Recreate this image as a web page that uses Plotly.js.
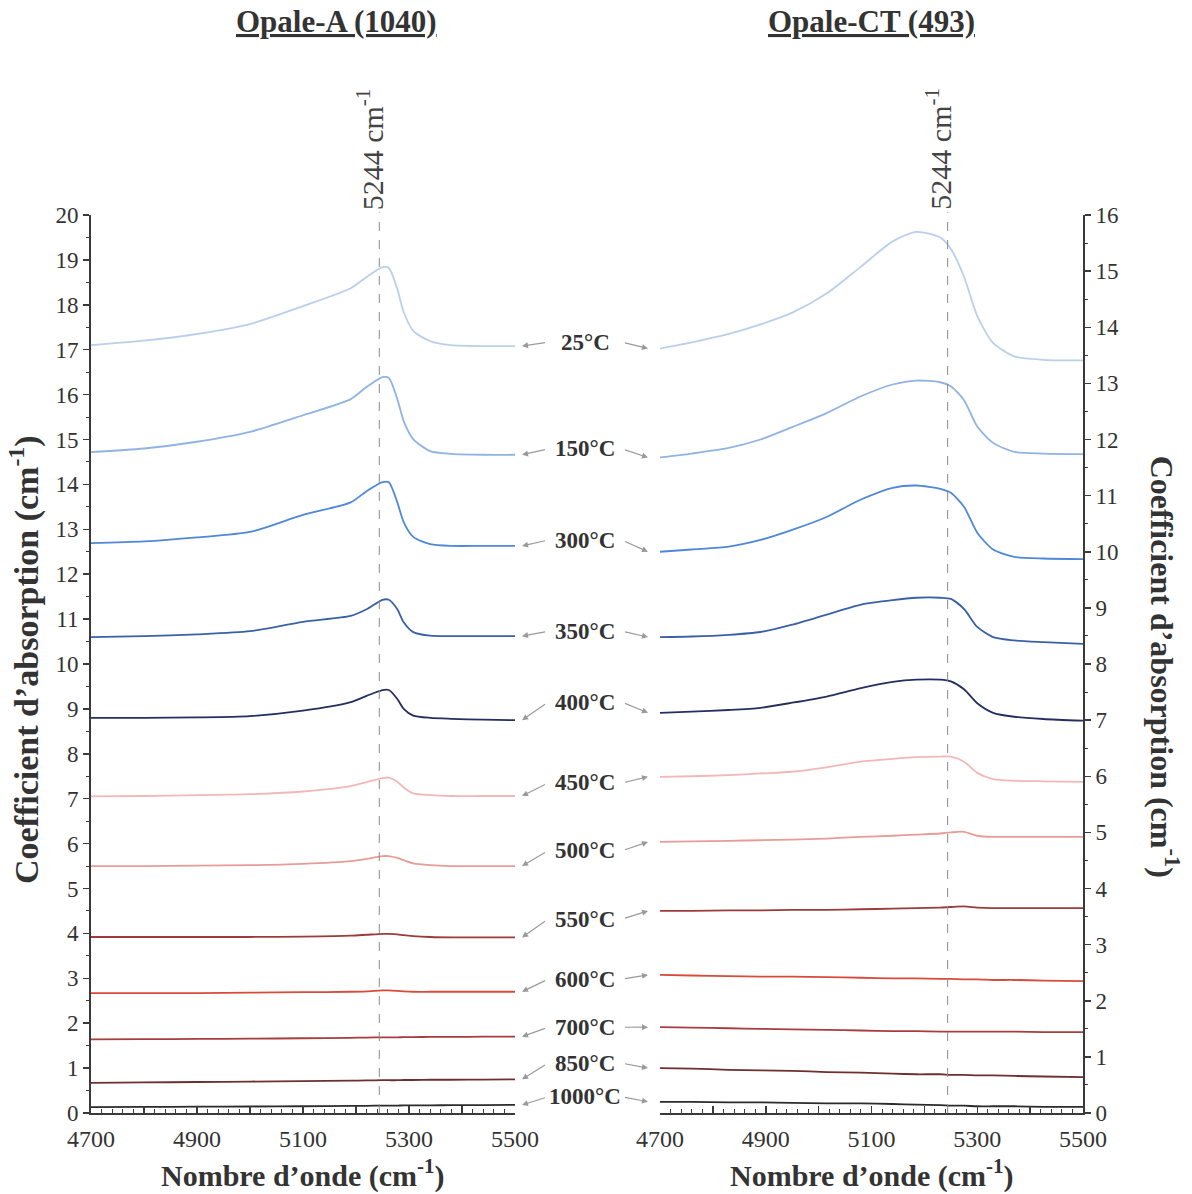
<!DOCTYPE html>
<html>
<head>
<meta charset="utf-8">
<script src="https://cdn.plot.ly/plotly-3.0.1.min.js"></script>
<style>html,body{margin:0;padding:0;background:#fff;}#chart{width:1192px;height:1194px;}</style>
</head>
<body>
<div id="chart"></div>
<script>
// ---- Data ----
const temps = ['25°C','150°C','300°C','350°C','400°C','450°C','500°C','550°C','600°C','700°C','850°C','1000°C'];

// Opale-A (1040) - left panel, wavenumber grid
const xOpaleA = [4700, 4800, 4900, 5000, 5100, 5190, 5220, 5250, 5262, 5278, 5290, 5308, 5340, 5380, 5440, 5500];
const opaleA_25   = [17.10, 17.20, 17.35, 17.57, 17.97, 18.37, 18.62, 18.84, 18.82, 18.35, 17.84, 17.42, 17.19, 17.10, 17.08, 17.08];
const opaleA_150  = [14.72, 14.80, 14.95, 15.17, 15.54, 15.90, 16.17, 16.39, 16.37, 15.90, 15.41, 15.01, 14.74, 14.68, 14.66, 14.66];
const opaleA_300  = [12.69, 12.73, 12.82, 12.94, 13.32, 13.60, 13.85, 14.05, 14.05, 13.60, 13.16, 12.83, 12.67, 12.63, 12.63, 12.63];
const opaleA_350  = [10.60, 10.62, 10.66, 10.73, 10.94, 11.07, 11.22, 11.43, 11.43, 11.22, 10.93, 10.71, 10.63, 10.62, 10.62, 10.62];
const opaleA_400  = [8.80, 8.80, 8.81, 8.84, 8.96, 9.15, 9.29, 9.42, 9.42, 9.22, 9.00, 8.85, 8.80, 8.78, 8.76, 8.75];
const opaleA_450  = [7.05, 7.06, 7.08, 7.10, 7.16, 7.28, 7.37, 7.46, 7.47, 7.38, 7.25, 7.12, 7.08, 7.06, 7.06, 7.06];
const opaleA_500  = [5.50, 5.50, 5.51, 5.52, 5.55, 5.61, 5.66, 5.72, 5.72, 5.68, 5.63, 5.56, 5.52, 5.50, 5.50, 5.50];
const opaleA_550  = [3.92, 3.92, 3.92, 3.92, 3.93, 3.95, 3.97, 3.99, 3.99, 3.98, 3.96, 3.94, 3.92, 3.91, 3.91, 3.91];
const opaleA_600  = [2.67, 2.67, 2.67, 2.68, 2.69, 2.70, 2.71, 2.73, 2.73, 2.72, 2.71, 2.70, 2.70, 2.70, 2.70, 2.70];
const opaleA_700  = [1.64, 1.645, 1.65, 1.655, 1.665, 1.675, 1.68, 1.685, 1.685, 1.685, 1.69, 1.69, 1.695, 1.695, 1.70, 1.70];
const opaleA_850  = [0.67, 0.68, 0.69, 0.70, 0.71, 0.72, 0.725, 0.73, 0.73, 0.73, 0.735, 0.735, 0.74, 0.74, 0.745, 0.75];
const opaleA_1000 = [0.13, 0.135, 0.14, 0.145, 0.15, 0.16, 0.16, 0.165, 0.165, 0.165, 0.17, 0.17, 0.17, 0.175, 0.175, 0.18];

// Opale-CT (493) - right panel, wavenumber grid
const xOpaleCT = [4700, 4760, 4830, 4890, 4950, 5015, 5080, 5140, 5185, 5230, 5250, 5275, 5300, 5330, 5370, 5425, 5500];
const opaleCT_25   = [13.62, 13.73, 13.88, 14.05, 14.26, 14.60, 15.08, 15.53, 15.70, 15.60, 15.40, 14.90, 14.20, 13.72, 13.48, 13.42, 13.41];
const opaleCT_150  = [11.68, 11.75, 11.85, 12.00, 12.22, 12.47, 12.77, 12.98, 13.05, 13.02, 12.95, 12.70, 12.23, 11.94, 11.78, 11.75, 11.74];
const opaleCT_300  = [10.00, 10.04, 10.09, 10.21, 10.39, 10.62, 10.93, 11.14, 11.18, 11.12, 11.05, 10.80, 10.34, 10.04, 9.91, 9.88, 9.87];
const opaleCT_350  = [8.48, 8.49, 8.52, 8.57, 8.70, 8.88, 9.06, 9.14, 9.18, 9.18, 9.16, 8.98, 8.66, 8.48, 8.42, 8.39, 8.36];
const opaleCT_400  = [7.13, 7.15, 7.18, 7.22, 7.31, 7.42, 7.57, 7.68, 7.72, 7.72, 7.69, 7.55, 7.30, 7.13, 7.06, 7.02, 6.99];
const opaleCT_450  = [5.99, 6.00, 6.02, 6.05, 6.08, 6.16, 6.26, 6.31, 6.34, 6.35, 6.35, 6.26, 6.06, 5.95, 5.92, 5.91, 5.90];
const opaleCT_500  = [4.83, 4.84, 4.85, 4.86, 4.87, 4.89, 4.92, 4.94, 4.96, 4.98, 5.00, 5.01, 4.94, 4.92, 4.92, 4.92, 4.92];
const opaleCT_550  = [3.60, 3.60, 3.61, 3.61, 3.62, 3.62, 3.63, 3.64, 3.65, 3.66, 3.67, 3.68, 3.66, 3.65, 3.65, 3.65, 3.65];
const opaleCT_600  = [2.46, 2.45, 2.44, 2.43, 2.43, 2.42, 2.41, 2.40, 2.40, 2.39, 2.39, 2.38, 2.38, 2.37, 2.37, 2.36, 2.35];
const opaleCT_700  = [1.53, 1.52, 1.51, 1.50, 1.49, 1.48, 1.47, 1.46, 1.46, 1.45, 1.45, 1.45, 1.45, 1.45, 1.45, 1.44, 1.44];
const opaleCT_850  = [0.80, 0.79, 0.77, 0.76, 0.75, 0.73, 0.72, 0.70, 0.69, 0.69, 0.68, 0.68, 0.67, 0.67, 0.66, 0.65, 0.64];
const opaleCT_1000 = [0.20, 0.20, 0.19, 0.19, 0.18, 0.17, 0.17, 0.16, 0.15, 0.14, 0.13, 0.13, 0.12, 0.12, 0.12, 0.11, 0.11];

const peakLine = 5244;
const xTickVals = [4700, 4800, 4900, 5000, 5100, 5200, 5300, 5400, 5500];
const xTickText = ['4700', '', '4900', '', '5100', '', '5300', '', '5500'];

// ---- Styling ----
const colors = ['#b9d0ec', '#8fb3e3', '#4f88d8', '#3a61a8', '#252f5f', '#f2b7b7', '#e89c98',
                '#9c3b3b', '#d94a3c', '#a83d3d', '#6f2f2f', '#2b2b2b'];
const seriesA  = [opaleA_25, opaleA_150, opaleA_300, opaleA_350, opaleA_400, opaleA_450, opaleA_500, opaleA_550, opaleA_600, opaleA_700, opaleA_850, opaleA_1000];
const seriesCT = [opaleCT_25, opaleCT_150, opaleCT_300, opaleCT_350, opaleCT_400, opaleCT_450, opaleCT_500, opaleCT_550, opaleCT_600, opaleCT_700, opaleCT_850, opaleCT_1000];
// label vertical position (in left-axis units) - layout only
const labelPos = [17.17, 14.79, 12.76, 10.73, 9.15, 7.35, 5.84, 4.32, 2.98, 1.91, 1.11, 0.36];

const serif = "'Liberation Serif', 'Times New Roman', 'DejaVu Serif', serif";
const axisCol = '#3a3a3a';
const txtCol = '#333333';

const traces = [];
seriesA.forEach((ys, i) => {
  traces.push({x: xOpaleA, y: ys, xaxis: 'x', yaxis: 'y', type: 'scatter', mode: 'lines',
    name: temps[i], line: {color: colors[i], width: 1.8, shape: 'spline', smoothing: 0.7}, showlegend: false});
});
seriesCT.forEach((ys, i) => {
  traces.push({x: xOpaleCT, y: ys, xaxis: 'x2', yaxis: 'y2', type: 'scatter', mode: 'lines',
    name: temps[i], line: {color: colors[i], width: 1.8, shape: 'spline', smoothing: 0.7}, showlegend: false});
});

const annotations = [];
const arrowCol = '#9a9a9a';
temps.forEach((t, i) => {
  annotations.push({xref: 'paper', yref: 'y', x: 0.498, y: labelPos[i], text: '<b>' + t + '</b>',
    showarrow: false, font: {family: serif, size: 23, color: txtCol}, xanchor: 'center', yanchor: 'middle'});
  const lastA = seriesA[i][seriesA[i].length - 1];
  annotations.push({xref: 'paper', yref: 'y', x: 0.4345, y: lastA, axref: 'pixel', ayref: 'y', ax: 26, ay: labelPos[i],
    text: ' ', showarrow: true, arrowhead: 2, arrowsize: 1, arrowwidth: 1.2, arrowcolor: arrowCol, standoff: 0, startstandoff: 0});
  const firstCT = seriesCT[i][0];
  annotations.push({xref: 'paper', yref: 'y2', x: 0.5615, y: firstCT, axref: 'pixel', ayref: 'y2', ax: -26, ay: labelPos[i] * 0.8,
    text: ' ', showarrow: true, arrowhead: 2, arrowsize: 1, arrowwidth: 1.2, arrowcolor: arrowCol, standoff: 0, startstandoff: 0});
});

// panel titles
annotations.push({xref: 'paper', yref: 'paper', x: 0.247, y: 1.215, text: '<b><u>Opale-A (1040)</u></b>',
  showarrow: false, font: {family: serif, size: 31, color: txtCol}, xanchor: 'center', yanchor: 'middle'});
annotations.push({xref: 'paper', yref: 'paper', x: 0.787, y: 1.215, text: '<b><u>Opale-CT (493)</u></b>',
  showarrow: false, font: {family: serif, size: 31, color: txtCol}, xanchor: 'center', yanchor: 'middle'});
// 5244 labels
annotations.push({xref: 'x', yref: 'paper', x: peakLine, y: 1.0735, xshift: -9, text: '5244 cm<sup>-1</sup>', textangle: -90,
  showarrow: false, font: {family: serif, size: 30, color: '#444'}, xanchor: 'center', yanchor: 'middle'});
annotations.push({xref: 'x2', yref: 'paper', x: peakLine, y: 1.0735, xshift: -9, text: '5244 cm<sup>-1</sup>', textangle: -90,
  showarrow: false, font: {family: serif, size: 30, color: '#444'}, xanchor: 'center', yanchor: 'middle'});
// axis titles
annotations.push({xref: 'paper', yref: 'paper', x: -0.0665, y: 0.5045, text: '<b>Coefficient d’absorption (cm<sup>-1</sup>)</b>', textangle: -90,
  showarrow: false, font: {family: serif, size: 34, color: txtCol}, xanchor: 'center', yanchor: 'middle'});
annotations.push({xref: 'paper', yref: 'paper', x: 1.0827, y: 0.497, text: '<b>Coefficient d’absorption (cm<sup>-1</sup>)</b>', textangle: 90,
  showarrow: false, font: {family: serif, size: 32, color: txtCol}, xanchor: 'center', yanchor: 'middle'});
annotations.push({xref: 'x domain', yref: 'paper', x: 0.5, y: -0.067, text: '<b>Nombre d’onde (cm<sup>-1</sup>)</b>',
  showarrow: false, font: {family: serif, size: 30, color: txtCol}, xanchor: 'center', yanchor: 'middle'});
annotations.push({xref: 'x2 domain', yref: 'paper', x: 0.5, y: -0.067, text: '<b>Nombre d’onde (cm<sup>-1</sup>)</b>',
  showarrow: false, font: {family: serif, size: 30, color: txtCol}, xanchor: 'center', yanchor: 'middle'});

const shapes = [
  {type: 'line', xref: 'x', yref: 'paper', x0: peakLine, x1: peakLine, y0: 0, y1: 1.003, line: {color: '#8a8a8a', width: 1, dash: 'dash'}},
  {type: 'line', xref: 'x2', yref: 'paper', x0: peakLine, x1: peakLine, y0: 0, y1: 1.003, line: {color: '#8a8a8a', width: 1, dash: 'dash'}}
];

const xaxisBase = {
  range: [4700, 5500], showgrid: false, zeroline: false, showline: true, linecolor: axisCol, linewidth: 2,
  tickmode: 'array', tickvals: xTickVals, ticktext: xTickText, ticks: 'inside', ticklen: 7, tickwidth: 1.5, tickcolor: axisCol,
  minor: {dtick: 20, tick0: 4700, ticks: 'inside', ticklen: 4, tickwidth: 1, tickcolor: axisCol},
  tickfont: {family: serif, size: 24, color: txtCol}, ticklabelstandoff: 3, fixedrange: true
};
const yaxisBase = {
  showgrid: false, zeroline: false, showline: true, linecolor: axisCol, linewidth: 2,
  ticks: 'outside', ticklen: 6, tickwidth: 1.5, tickcolor: axisCol, dtick: 1, tick0: 0,
  minor: {dtick: 0.5, ticks: 'outside', ticklen: 3, tickwidth: 1, tickcolor: axisCol},
  tickfont: {family: serif, size: 23, color: txtCol}, fixedrange: true
};

const layout = {
  width: 1192, height: 1194,
  margin: {l: 91, r: 109, t: 215, b: 81},
  paper_bgcolor: '#ffffff', plot_bgcolor: 'rgba(0,0,0,0)',
  showlegend: false,
  font: {family: serif},
  xaxis: Object.assign({}, xaxisBase, {domain: [0, 0.4274], anchor: 'y'}),
  xaxis2: Object.assign({}, xaxisBase, {domain: [0.5736, 1], anchor: 'y2'}),
  yaxis: Object.assign({}, yaxisBase, {range: [0, 20], anchor: 'x', side: 'left'}),
  yaxis2: Object.assign({}, yaxisBase, {range: [0, 16], anchor: 'x2', side: 'right'}),
  annotations: annotations,
  shapes: shapes
};

Plotly.newPlot('chart', traces, layout, {displayModeBar: false, staticPlot: true});
</script>
</body>
</html>
